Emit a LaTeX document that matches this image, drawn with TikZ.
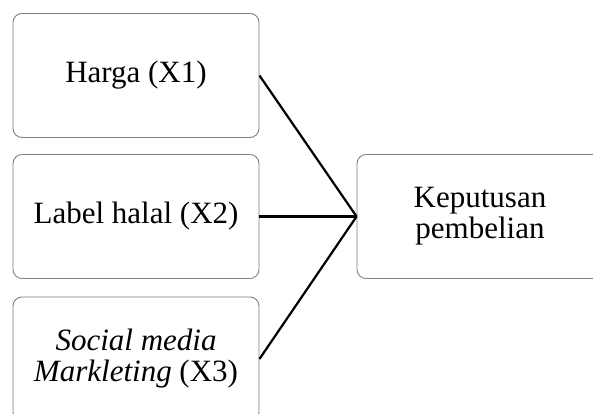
\documentclass[tikz,border=0pt]{standalone}
\usepackage{fontspec}
\setmainfont{Liberation Serif}
\usepackage{tikz}
\tikzset{
    x=1pt, y=1pt,
    varbox/.style={rectangle,rounded corners=9pt,draw=black!50,line width=0.9pt,
        minimum width=246pt,minimum height=124pt,align=center,
        font=\fontsize{31}{31}\selectfont},
    link/.style={draw=black,line width=2.2pt}
}

\begin{document}
\begin{tikzpicture}
  \clip (0,0) rectangle (593,414);
  \useasboundingbox (0,0) rectangle (593,414);

  \node[varbox] (harga) at (136, 338.5) {Harga (X1)};
  \node[varbox] (halal) at (136, 197.5) {Label halal (X2)};
  \node[varbox] (sosmed) at (136, 55) {\textit{Social media}\\\textit{Markleting} (X3)};
  \node[varbox] (keputusan) at (480, 197.5) {Keputusan\\pembelian};

  \draw[link] (harga.east) -- (keputusan.west);
  \draw[link] (halal.east) -- (keputusan.west);
  \draw[link] (sosmed.east) -- (keputusan.west);
\end{tikzpicture}
\end{document}
